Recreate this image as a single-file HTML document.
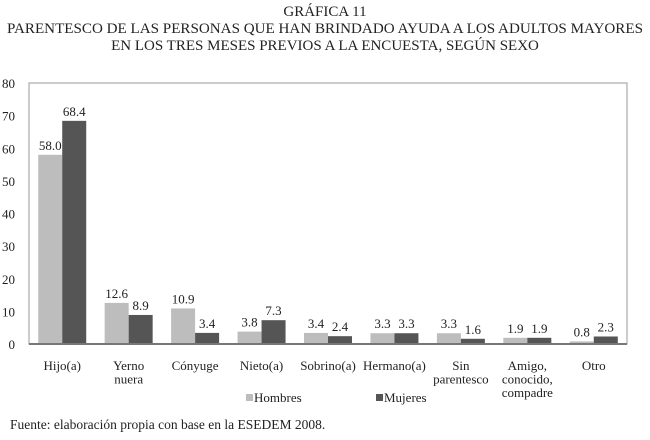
<!DOCTYPE html>
<html><head><meta charset="utf-8"><style>
body{margin:0;background:#fff;width:650px;height:435px;overflow:hidden;font-family:"Liberation Serif",serif;}
svg text{font-family:"Liberation Serif",serif;fill:#222;}
</style></head><body>
<svg id="c" width="650" height="435">
<text x="325" y="16" text-anchor="middle" font-size="15">GRÁFICA 11</text>
<text x="325" y="33" text-anchor="middle" font-size="15" textLength="636" lengthAdjust="spacingAndGlyphs">PARENTESCO DE LAS PERSONAS QUE HAN BRINDADO AYUDA A LOS ADULTOS MAYORES</text>
<text x="325" y="50" text-anchor="middle" font-size="15">EN LOS TRES MESES PREVIOS A LA ENCUESTA, SEGÚN SEXO</text>
<text x="10" y="429" font-size="13.5">Fuente: elaboración propia con base en la  ESEDEM 2008.</text>
</svg>
<script>
const categories=[["Hijo(a)"],["Yerno","nuera"],["Cónyuge"],["Nieto(a)"],["Sobrino(a)"],["Hermano(a)"],["Sin","parentesco"],["Amigo,","conocido,","compadre"],["Otro"]];
const hombres=[58.0,12.6,10.9,3.8,3.4,3.3,3.3,1.9,0.8];
const mujeres=[68.4,8.9,3.4,7.3,2.4,3.3,1.6,1.9,2.3];
const yTicks=[0,10,20,30,40,50,60,70,80];
const NS="http://www.w3.org/2000/svg";
const svg=document.getElementById('c');
const X0=29,X1=627,Y0=344,Y1=83,YMAX=80;
const step=(X1-X0)/categories.length;
const y=v=>Y0-(v/YMAX)*(Y0-Y1);
const cx=i=>X0+step*(i+0.5);
function mk(t,a){const e=document.createElementNS(NS,t);for(const k in a)e.setAttribute(k,a[k]);svg.appendChild(e);return e;}
let f=mk('rect',{x:X0,y:Y1,width:X1-X0,height:Y0-Y1,fill:'none',stroke:'#999','stroke-width':1});


yTicks.forEach(t=>{const e=mk('text',{x:15,y:y(t)+5,'text-anchor':'end','font-size':13});e.textContent=t;

});
const bw=24;
categories.forEach((c,i)=>{
 const h=mk('rect',{x:cx(i)-bw,y:y(hombres[i]),width:bw,height:Y0-y(hombres[i]),fill:'#bdbdbd'});
 
 
 const m=mk('rect',{x:cx(i),y:y(mujeres[i]),width:bw,height:Y0-y(mujeres[i]),fill:'#555'});
 
 
 const lh=mk('text',{x:cx(i)-bw/2,y:y(hombres[i])-5,'text-anchor':'middle','font-size':13});lh.textContent=hombres[i].toFixed(1);
 
 
 const lm=mk('text',{x:cx(i)+bw/2,y:y(mujeres[i])-5,'text-anchor':'middle','font-size':13});lm.textContent=mujeres[i].toFixed(1);
 
 
 c.forEach((ln,j)=>{const t=mk('text',{x:cx(i),y:370+j*13.5,'text-anchor':'middle','font-size':13});t.textContent=ln;
 
 });
});
mk('line',{x1:X0,x2:X1,y1:Y0,y2:Y0,stroke:'#777','stroke-width':2});
const lg=[["Hombres","#bdbdbd",246],["Mujeres","#555",376]];
lg.forEach(l=>{const r=mk('rect',{x:l[2],y:394,width:7,height:7,fill:l[1]});


const t=mk('text',{x:l[2]+8,y:402,'font-size':13});t.textContent=l[0];

});
</script>
</body></html>
